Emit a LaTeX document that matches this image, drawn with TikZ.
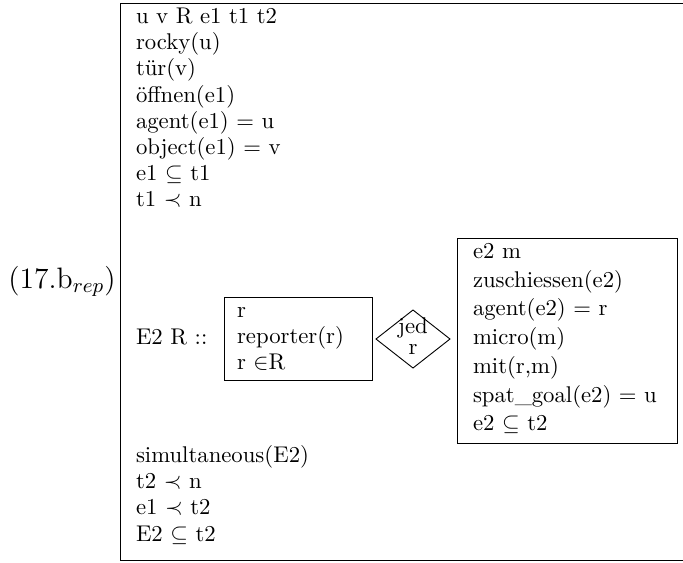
\documentclass[tikz,border=0pt]{standalone}
\begin{document}
\begin{tikzpicture}[x=0.44pt,y=-0.44pt,line width=0.4pt,
  ln/.style={anchor=base west,inner sep=0pt,outer sep=0pt},
  box/.style={draw,line width=0.4pt}]
\useasboundingbox (0,0) rectangle (683,562);

% example label
\node[anchor=base east,inner sep=0pt,font=\fontsize{13}{15}\selectfont] (lab) at (116,288) {(17.b$_{rep}$)};

% outer DRS box (runs past the right edge)
\draw[box] (700,3) -- (120,3) -- (120,560) -- (700,560);

% main conditions
\node[ln] (m1) at (136,23.5)  {u v R e1 t1 t2};
\node[ln] (m2) at (136,49.7)  {rocky(u)};
\node[ln] (m3) at (136,75.9)  {tür(v)};
\node[ln] (m4) at (136,102.1) {öffnen(e1)};
\node[ln] (m5) at (136,128.3) {agent(e1) $=$ u};
\node[ln] (m6) at (136,154.5) {object(e1) $=$ v};
\node[ln] (m7) at (136,180.7) {e1 $\subseteq$ t1};
\node[ln] (m8) at (136,206.9) {t1 $\prec$ n};

% duplex condition
\node[ln] (dup) at (136,344) {E2 R ::};

% restrictor box
\draw[box] (224,297) rectangle (372,380);
\node[ln] (r1) at (237,317) {r};
\node[ln] (r2) at (237,343) {reporter(r)};
\node[ln] (r3) at (237,369) {r $\in$R};

% quantifier diamond
\node[anchor=base,inner sep=0pt] (q1) at (413,333) {jed};
\node[anchor=base,inner sep=0pt] (q2) at (413,354) {r};
\coordinate (qc) at (413,339);
\draw[box] (qc) ++(-37,0) -- ++(37,-29) -- ++(37,29) -- ++(-37,29) -- cycle;

% scope box
\draw[box] (457,238) rectangle (677,443);
\node[ln] (s1) at (473,258.5) {e2 m};
\node[ln] (s2) at (473,287.2) {zuschiessen(e2)};
\node[ln] (s3) at (473,315.9) {agent(e2) $=$ r};
\node[ln] (s4) at (473,344.6) {micro(m)};
\node[ln] (s5) at (473,373.3) {mit(r,m)};
\node[ln] (s6) at (473,402)   {spat\_goal(e2) $=$ u};
\node[ln] (s7) at (473,430.7) {e2 $\subseteq$ t2};

% remaining conditions
\node[ln] (b1) at (136,462.4) {simultaneous(E2)};
\node[ln] (b2) at (136,488.6) {t2 $\prec$ n};
\node[ln] (b3) at (136,514.8) {e1 $\prec$ t2};
\node[ln] (b4) at (136,541)   {E2 $\subseteq$ t2};
\end{tikzpicture}
\end{document}
